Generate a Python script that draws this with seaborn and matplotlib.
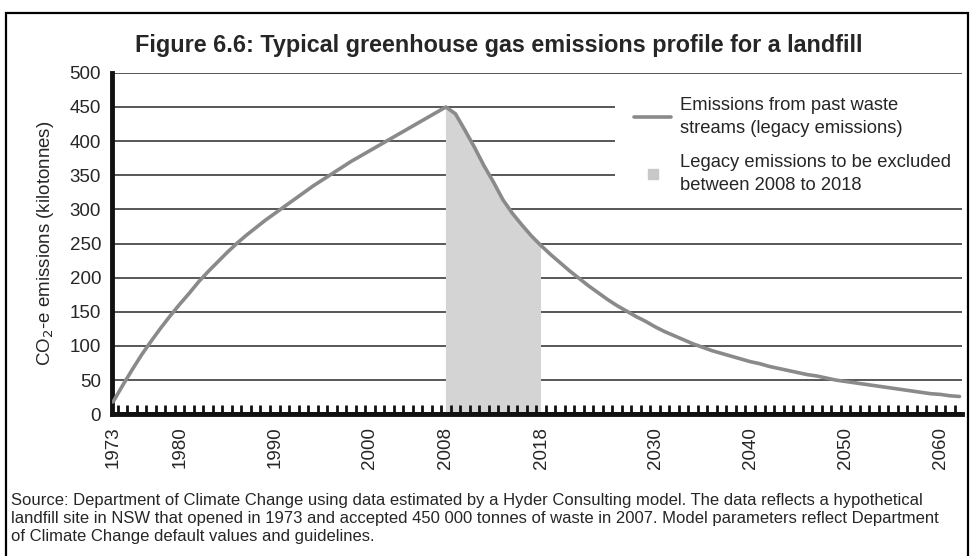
import matplotlib
matplotlib.use("Agg")
import matplotlib.pyplot as plt
from matplotlib.lines import Line2D
from matplotlib.patches import Rectangle
import numpy as np
import pandas as pd
import seaborn as sns

# Values (kilotonnes CO2-e per year)
years = list(range(1973, 2063))
emissions = [
    18, 42, 65, 87, 107, 126, 144, 161, 177, 194,            # 1973-1982
    209, 223, 237, 250, 262, 273, 284, 294, 304, 314,        # 1983-1992
    324, 334, 343, 352, 361, 370, 378, 386, 394, 402,        # 1993-2002
    410, 418, 426, 434, 442, 450,                            # 2003-2008
    440, 416, 391, 364, 340, 314, 294, 277, 261, 247,        # 2009-2018
    234, 222, 210, 199, 188, 178, 168, 159, 151, 143,        # 2019-2028
    136, 128, 121, 115, 109, 103, 98, 93, 89, 85,            # 2029-2038
    81, 77, 74, 70, 67, 64, 61, 58, 56, 53,                  # 2039-2048
    50, 48, 46, 44, 42, 40, 38, 36, 34, 32,                  # 2049-2058
    30, 29, 27, 26,                                          # 2059-2062
]
excluded_start = 2008
excluded_end = 2018
label_years = [1973, 1980, 1990, 2000, 2008, 2018, 2030, 2040, 2050, 2060]
y_ticks = list(range(0, 501, 50))

title = "Figure 6.6: Typical greenhouse gas emissions profile for a landfill"
source = ("Source: Department of Climate Change using data estimated by a "
          "Hyder Consulting model. The data reflects a hypothetical\n"
          "landfill site in NSW that opened in 1973 and accepted 450 000 "
          "tonnes of waste in 2007. Model parameters reflect Department\n"
          "of Climate Change default values and guidelines.")
legend_labels = ["Emissions from past waste\nstreams (legacy emissions)",
                 "Legacy emissions to be excluded\nbetween 2008 to 2018"]

df = pd.DataFrame({"year": years, "emissions": emissions})

sns.set_style("white")
plt.rcParams["font.family"] = ["Liberation Sans", "DejaVu Sans"]

fig = plt.figure(figsize=(9.75, 5.56), dpi=100)
ax_pos = [0.115, 0.255, 0.872, 0.614]
ax = fig.add_axes(ax_pos)

line_col = "#8a8a8a"
fill_col = "#d4d4d4"
xlim = (1972.9, 2062.3)

# horizontal grid lines, kept below the data
for v in y_ticks[1:]:
    ax.axhline(v, color="#2a2a2a", lw=1.1, zorder=0.2)

# shaded excluded legacy emissions
sub = df[(df.year >= excluded_start) & (df.year <= excluded_end)]
ax.fill_between(sub.year.to_numpy(), 0, sub.emissions.to_numpy(),
                facecolor=fill_col, edgecolor="none", zorder=0.3)

sns.lineplot(data=df, x="year", y="emissions", color=line_col, lw=2.6,
             ax=ax, zorder=3)

ax.set_xlim(*xlim)
ax.set_ylim(0, 500)
ax.set_yticks(y_ticks)
ax.set_xticks(label_years)
ax.tick_params(axis="x", which="major", length=0, labelrotation=90,
               labelsize=13.5, pad=9)
ax.tick_params(axis="y", length=0, labelsize=13.5, pad=8)
ax.set_xlabel("")
ax.set_ylabel("CO$_2$-e emissions (kilotonnes)", fontsize=13.5,
              labelpad=10)

ax.grid(False)
for s in ["top", "right"]:
    ax.spines[s].set_visible(False)
ax.spines["left"].set_linewidth(3.5)
ax.spines["bottom"].set_linewidth(3.5)
ax.spines["left"].set_color("#111111")
ax.spines["bottom"].set_color("#111111")

# white panel behind the legend hides the grid lines there
ax.add_patch(Rectangle((0.592, 0.645), 0.42, 0.31, transform=ax.transAxes,
                       facecolor="white", edgecolor="none", zorder=0.4,
                       clip_on=False))

handles = [Line2D([], [], color=line_col, lw=2.6),
           Line2D([], [], color="#c8c8c8", marker="s", markersize=7,
                  linestyle="none")]
leg = ax.legend(handles, legend_labels, loc="upper left",
                bbox_to_anchor=(0.643, 0.838), bbox_transform=fig.transFigure,
                fontsize=13.2, frameon=False, handlelength=2.0,
                handletextpad=0.5, labelspacing=0.9, borderaxespad=0)
for t in leg.get_texts():
    t.set_linespacing(1.45)
leg.set_zorder(5)

# overlay axes drawn after the main one: yearly comb ticks on top of shading
ax_top = fig.add_axes(ax_pos, frameon=False)
ax_top.patch.set_alpha(0)
ax_top.set_xlim(*xlim)
ax_top.set_ylim(0, 1)
ax_top.set_xticks([])
ax_top.set_yticks([])
comb = np.array(years[:-1]) + 0.5
ax_top.vlines(comb, 0, 0.027, color="#111111", lw=2)
ax_top.axhline(0, color="#111111", lw=3.5)

fig.text(0.512, 0.918, title, ha="center", va="center", fontsize=16.8,
         fontweight="bold")
fig.text(0.011, 0.114, source, ha="left", va="top", fontsize=12.0,
         linespacing=1.28)

fig.patches.append(Rectangle((0.006, -0.01), 0.987, 0.987,
                             transform=fig.transFigure, fill=False,
                             edgecolor="black", lw=1.6))

fig.savefig("out.png", dpi=100)
